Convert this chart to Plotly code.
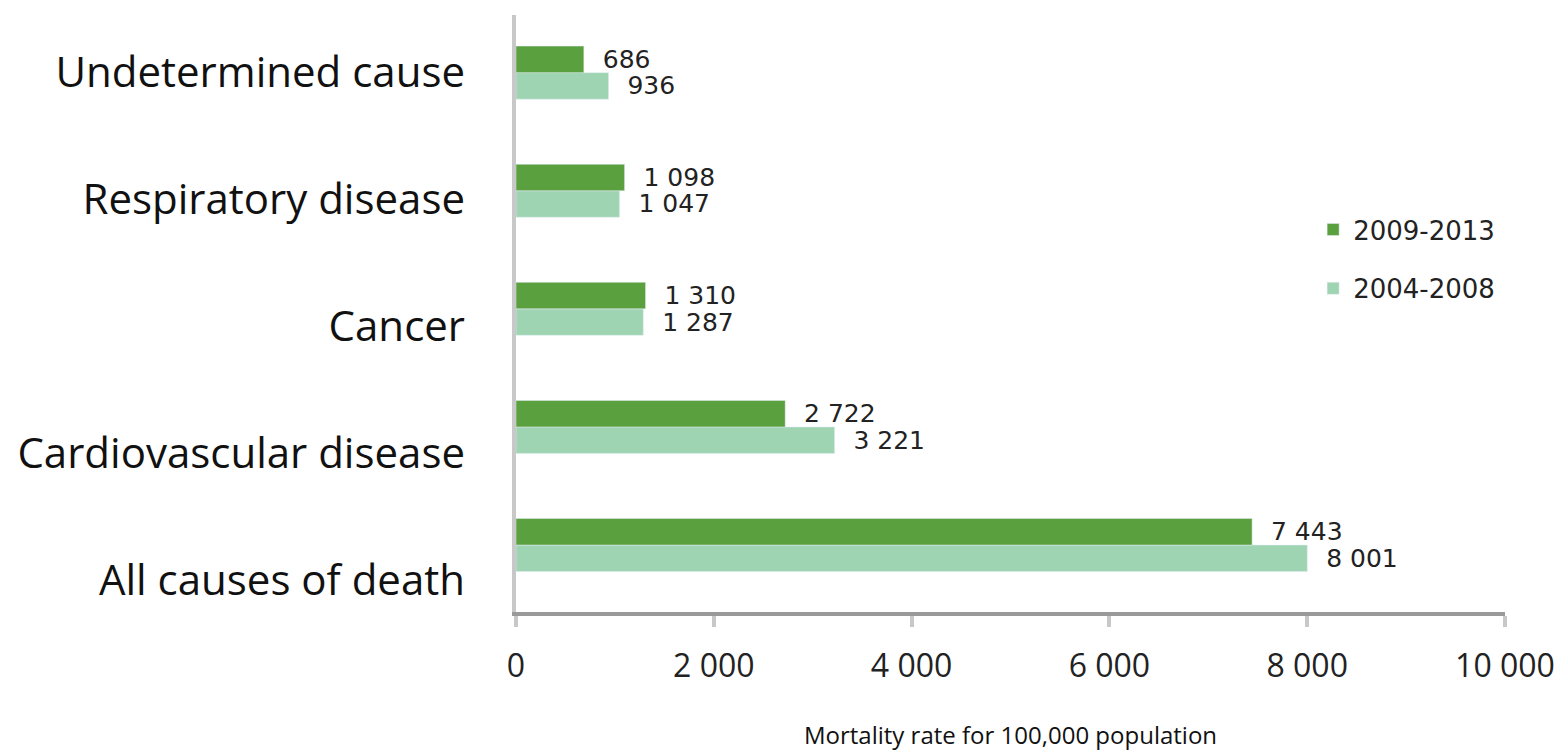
import plotly.graph_objects as go

categories = ["All causes of death", "Cardiovascular disease", "Cancer",
              "Respiratory disease", "Undetermined cause"]
values_2009_2013 = [7443, 2722, 1310, 1098, 686]
values_2004_2008 = [8001, 3221, 1287, 1047, 936]
x_ticks = [0, 2000, 4000, 6000, 8000, 10000]

DARK = "#5aa03f"
LIGHT = "#9ed4b1"
TXT = "#222222"

fig = go.Figure()
fig.add_trace(go.Bar(
    y=categories, x=values_2004_2008, orientation="h", name="2004-2008",
    marker=dict(color=LIGHT), legendgroup="b", legendrank=2,
    texttemplate="\u00a0\u00a0%{x:,}", textposition="outside", cliponaxis=False,
    constraintext="none",
    textfont=dict(family="DejaVu Sans", size=25, color=TXT), hoverinfo="skip",
))
fig.add_trace(go.Bar(
    y=categories, x=values_2009_2013, orientation="h", name="2009-2013",
    marker=dict(color=DARK), legendgroup="a", legendrank=1,
    texttemplate="\u00a0\u00a0%{x:,}", textposition="outside", cliponaxis=False,
    constraintext="none",
    textfont=dict(family="DejaVu Sans", size=25, color=TXT), hoverinfo="skip",
))
# invisible trace carrying the category labels axis
fig.add_trace(go.Scatter(
    y=categories, x=[0] * len(categories), yaxis="y2", mode="markers",
    marker=dict(opacity=0), showlegend=False, hoverinfo="skip",
))

fig.update_layout(
    width=1560, height=751,
    margin=dict(l=516, r=55, t=15, b=139, autoexpand=False),
    paper_bgcolor="white", plot_bgcolor="white",
    separators=". ",
    barmode="group", bargap=0.551, bargroupgap=0,
    showlegend=True,
    legend=dict(
        x=0.806, xanchor="left", y=0.68, yanchor="top",
        traceorder="grouped", tracegroupgap=22,
        font=dict(family="DejaVu Sans", size=26, color=TXT),
        bgcolor="rgba(0,0,0,0)",
    ),
    xaxis=dict(
        range=[0, 10000], tickvals=x_ticks, tickformat=",",
        showgrid=False, zeroline=False, automargin=False,
        showline=True, linecolor="#9a9a9a", linewidth=4,
        ticks="outside", ticklen=11, tickwidth=4, tickcolor="#c8c8c8",
        tickfont=dict(family="Open Sans", size=32, color=TXT),
        ticklabelstandoff=12,
        title=dict(text="Mortality rate for 100,000 population",
                   font=dict(family="Open Sans", size=24, color="#111111"),
                   standoff=49),
    ),
    yaxis=dict(
        type="category", categoryorder="array", categoryarray=categories,
        range=[-0.567, 4.488], automargin=False,
        showticklabels=False, ticks="", showgrid=False, zeroline=False,
        showline=True, linecolor="#c8c8c8", linewidth=4,
    ),
    yaxis2=dict(
        type="category", categoryorder="array", categoryarray=categories,
        overlaying="y", side="left", automargin=False,
        range=[-0.252, 4.449],
        showgrid=False, zeroline=False, showline=False,
        ticks="", ticklabelstandoff=50,
        tickfont=dict(family="Open Sans", size=42, color="#111111"),
    ),
)

fig.write_html(
    "out.html",
    config={"displayModeBar": False},
    post_script="document.body.style.margin='0';document.body.style.overflow='hidden';",
)
